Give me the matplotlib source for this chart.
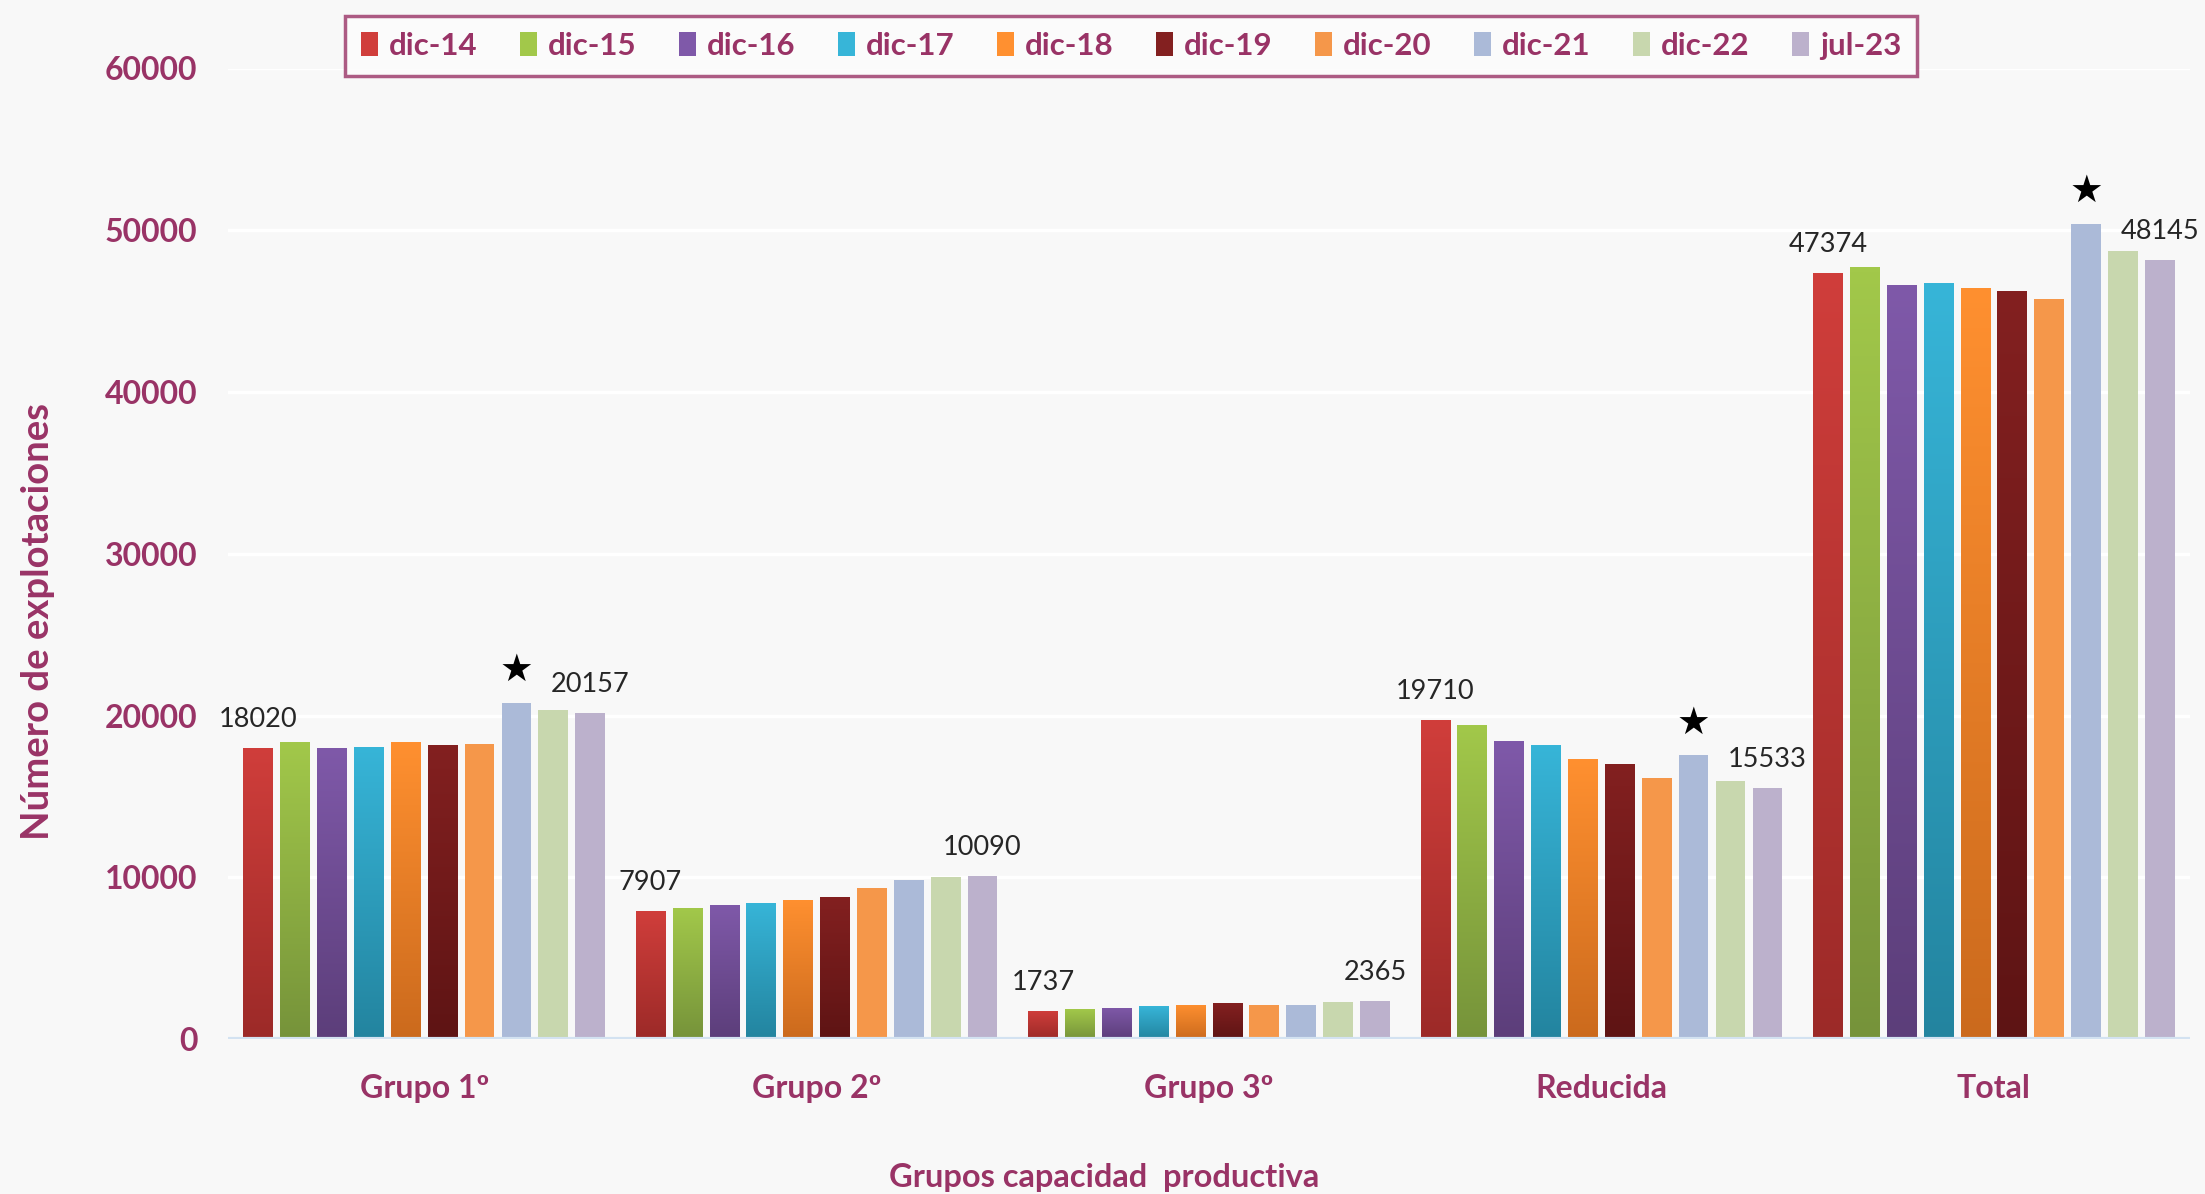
import numpy as np
import matplotlib
matplotlib.use("Agg")
import matplotlib.pyplot as plt
from matplotlib.colors import LinearSegmentedColormap
from matplotlib.patches import Patch

plt.rcParams['font.family'] = ['Lato', 'DejaVu Sans']

# ---------------- data ----------------
categories = ["Grupo 1º", "Grupo 2º", "Grupo 3º", "Reducida", "Total"]
series = ["dic-14", "dic-15", "dic-16", "dic-17", "dic-18",
          "dic-19", "dic-20", "dic-21", "dic-22", "jul-23"]

dic14 = [18020, 7907, 1737, 19710, 47374]
dic15 = [18350, 8090, 1850, 19400, 47700]
dic16 = [18000, 8260, 1935, 18420, 46620]
dic17 = [18080, 8420, 2020, 18150, 46720]
dic18 = [18350, 8610, 2105, 17290, 46460]
dic19 = [18180, 8770, 2215, 17020, 46270]
dic20 = [18240, 9310, 2100, 16130, 45730]
dic21 = [20800, 9840, 2100, 17530, 50400]
dic22 = [20350, 10000, 2300, 15960, 48730]
jul23 = [20157, 10090, 2365, 15533, 48145]
values = [dic14, dic15, dic16, dic17, dic18, dic19, dic20, dic21, dic22, jul23]

labelled_series = ["dic-14", "jul-23"]      # series whose values are printed
star_series = "dic-21"                        # series marked with a star
star_categories = ["Grupo 1º", "Reducida", "Total"]

y_ticks = [0, 10000, 20000, 30000, 40000, 50000, 60000]

# ---------------- styles ----------------
top_colors = ["#d03e3b", "#a2c84a", "#7f59a9", "#37b5d8", "#ff9030",
              "#832020", "#f5974a", "#abbad8", "#c8d7ae", "#bcb1cc"]
bottom_colors = ["#9c2a28", "#76933a", "#5c3e7a", "#23849f", "#cb6a1d",
                 "#5e1414", None, None, None, None]

txt_color = "#993366"
bg = "#f8f8f8"

W, H = 2205, 1194
fig = plt.figure(figsize=(W / 100, H / 100), dpi=100, facecolor=bg)
ax = fig.add_axes([228 / W, 155 / H, (2190 - 228) / W, (1039 - 68.5) / H], facecolor=bg)

x = np.arange(len(categories))
pitch = 0.094
width = 0.0757
n = len(series)

for j, (name, vals) in enumerate(zip(series, values)):
    off = (j - (n - 1) / 2) * pitch
    bars = ax.bar(x + off, vals, width, color=top_colors[j], edgecolor="none", zorder=3)
    if bottom_colors[j] is not None:
        cmap = LinearSegmentedColormap.from_list("g%d" % j, [bottom_colors[j], top_colors[j]])
        grad = np.linspace(0, 1, 256).reshape(-1, 1)
        for b in bars:
            im = ax.imshow(grad, extent=[b.get_x(), b.get_x() + b.get_width(), 0, b.get_height()],
                           origin="lower", cmap=cmap, aspect="auto", zorder=3.1,
                           interpolation="bilinear")
            im.set_clip_path(b)
    if name in labelled_series:
        for xi, v in zip(x + off, vals):
            ax.annotate(f"{v}", (xi, v), xytext=(0, 15), textcoords="offset points",
                        ha="center", va="baseline", fontsize=19.5, color="#262626",
                        zorder=5)
    if name == star_series:
        for ci, (xi, v) in enumerate(zip(x + off, vals)):
            if categories[ci] in star_categories:
                ax.annotate("★", (xi, v), xytext=(0, 23), textcoords="offset points",
                            ha="center", va="center", fontsize=27, color="black",
                            family="DejaVu Sans", zorder=5)

ax.set_xlim(-0.5, len(categories) - 0.5)
ax.set_ylim(0, 60000)
ax.set_yticks(y_ticks)
ax.set_yticklabels([str(t) for t in y_ticks])
ax.set_xticks(x)
ax.set_xticklabels(categories)

for t in y_ticks[1:]:
    ax.axhline(t, color="white", lw=2.5, zorder=1)
ax.axhline(0, color="#d3e2f1", lw=3, zorder=4)

for s in ax.spines.values():
    s.set_visible(False)
ax.tick_params(axis="both", length=0)
ax.tick_params(axis="y", pad=22, labelsize=23, labelcolor=txt_color)
ax.tick_params(axis="x", pad=25, labelsize=23, labelcolor=txt_color)
for lab in ax.get_yticklabels() + ax.get_xticklabels():
    lab.set_fontweight("bold")

fig.text(38 / W, 1 - 622 / H, "Número de explotaciones", rotation=90, ha="center", va="center",
         fontsize=27.5, fontweight="bold", color=txt_color)
fig.text(1104 / W, 1 - 1177 / H, "Grupos capacidad  productiva", ha="center", va="center",
         fontsize=23.5, fontweight="bold", color=txt_color)

handles = [Patch(facecolor=top_colors[j], edgecolor="none") for j in range(n)]
leg = fig.legend(handles, series, loc="center", bbox_to_anchor=(1131 / W, 1 - 46 / H),
                 ncol=n, fontsize=22.5, frameon=True, fancybox=False,
                 handlelength=0.55, handleheight=0.8, handletextpad=0.35,
                 columnspacing=1.35, borderpad=0.5, borderaxespad=0)
for t in leg.get_texts():
    t.set_color(txt_color)
    t.set_fontweight("bold")
fr = leg.get_frame()
fr.set_edgecolor(txt_color)
fr.set_linewidth(2.5)
fr.set_facecolor("#fcfcfc")

fig.savefig("out.png", dpi=100, facecolor=bg)
